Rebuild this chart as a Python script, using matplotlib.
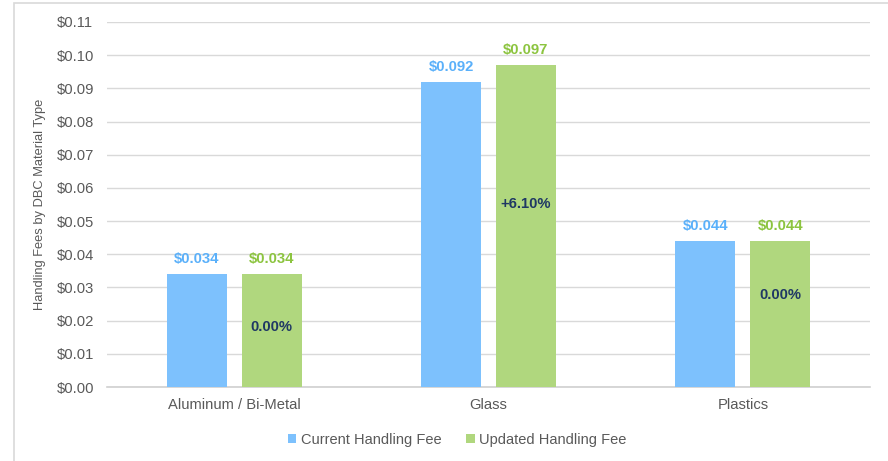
import numpy as np
import matplotlib.pyplot as plt
from matplotlib.patches import Rectangle

categories = ['Aluminum / Bi-Metal', 'Glass', 'Plastics']
current_fee = [0.034, 0.092, 0.044]
updated_fee = [0.034, 0.097, 0.044]
pct_change = ['0.00%', '+6.10%', '0.00%']
pct_ypos = [0.018, 0.055, 0.0277]

BLUE = '#7DC1FD'
GREEN = '#B0D77E'
BLUE_TXT = '#5AB0FA'
GREEN_TXT = '#8CC43F'
NAVY = '#1F3864'
GRAY_TXT = '#595959'
BAR_W = 0.236
OFFSET = 0.147

plt.rcParams['font.family'] = ['Liberation Sans', 'DejaVu Sans']

fig = plt.figure(figsize=(8.88, 4.61), dpi=100)
ax = fig.add_axes([107/888, 1-387/461, 763/888, 365/461])

# outer frame like the exported chart area
fig.patches.append(Rectangle((14/888, -0.05), 1.0, 1-3/461+0.05, transform=fig.transFigure,
                             fill=False, edgecolor='#D9D9D9', linewidth=1.2))

x = np.arange(len(categories))
ax.bar(x - OFFSET, current_fee, width=BAR_W, color=BLUE, label='Current Handling Fee', zorder=3)
ax.bar(x + OFFSET, updated_fee, width=BAR_W, color=GREEN, label='Updated Handling Fee', zorder=3)

for i in range(len(categories)):
    ax.text(x[i] - OFFSET, current_fee[i] + 0.0024, f'${current_fee[i]:.3f}', ha='center', va='bottom',
            color=BLUE_TXT, fontsize=10.7, fontweight='bold')
    ax.text(x[i] + OFFSET, updated_fee[i] + 0.0024, f'${updated_fee[i]:.3f}', ha='center', va='bottom',
            color=GREEN_TXT, fontsize=10.7, fontweight='bold')
    ax.text(x[i] + OFFSET, pct_ypos[i], pct_change[i], ha='center', va='center',
            color=NAVY, fontsize=10.7, fontweight='bold', zorder=4)

ax.set_xlim(-0.5, 2.5)
ax.set_ylim(0, 0.11)
ax.set_yticks(np.arange(0, 0.111, 0.01))
ax.set_yticklabels([f'${v:.2f}' for v in np.arange(0, 0.111, 0.01)])
ax.set_xticks(x)
ax.set_xticklabels(categories)
ax.tick_params(axis='both', length=0, colors=GRAY_TXT, labelsize=10.6)
ax.tick_params(axis='y', pad=36)
ax.tick_params(axis='x', pad=8)
for lab in ax.get_yticklabels():
    lab.set_horizontalalignment('left')

ax.grid(axis='y', color='#D9D9D9', linewidth=1, zorder=0)
for s in ['top', 'right', 'left']:
    ax.spines[s].set_visible(False)
ax.spines['bottom'].set_color('#D0D0D0')
ax.spines['bottom'].set_linewidth(1.2)

ax.set_ylabel('Handling Fees by DBC Material Type', color=GRAY_TXT, fontsize=9.3)
ax.yaxis.set_label_coords(-61/763, 0.5)

ax.legend(loc='upper center', bbox_to_anchor=(0.459 - 107/763 + 0.14, -0.09), ncol=2, frameon=False,
          fontsize=10.5, handlelength=0.6, handleheight=0.6, handletextpad=0.3, columnspacing=1.7,
          labelcolor=GRAY_TXT)

fig.savefig('out.png', dpi=100)
